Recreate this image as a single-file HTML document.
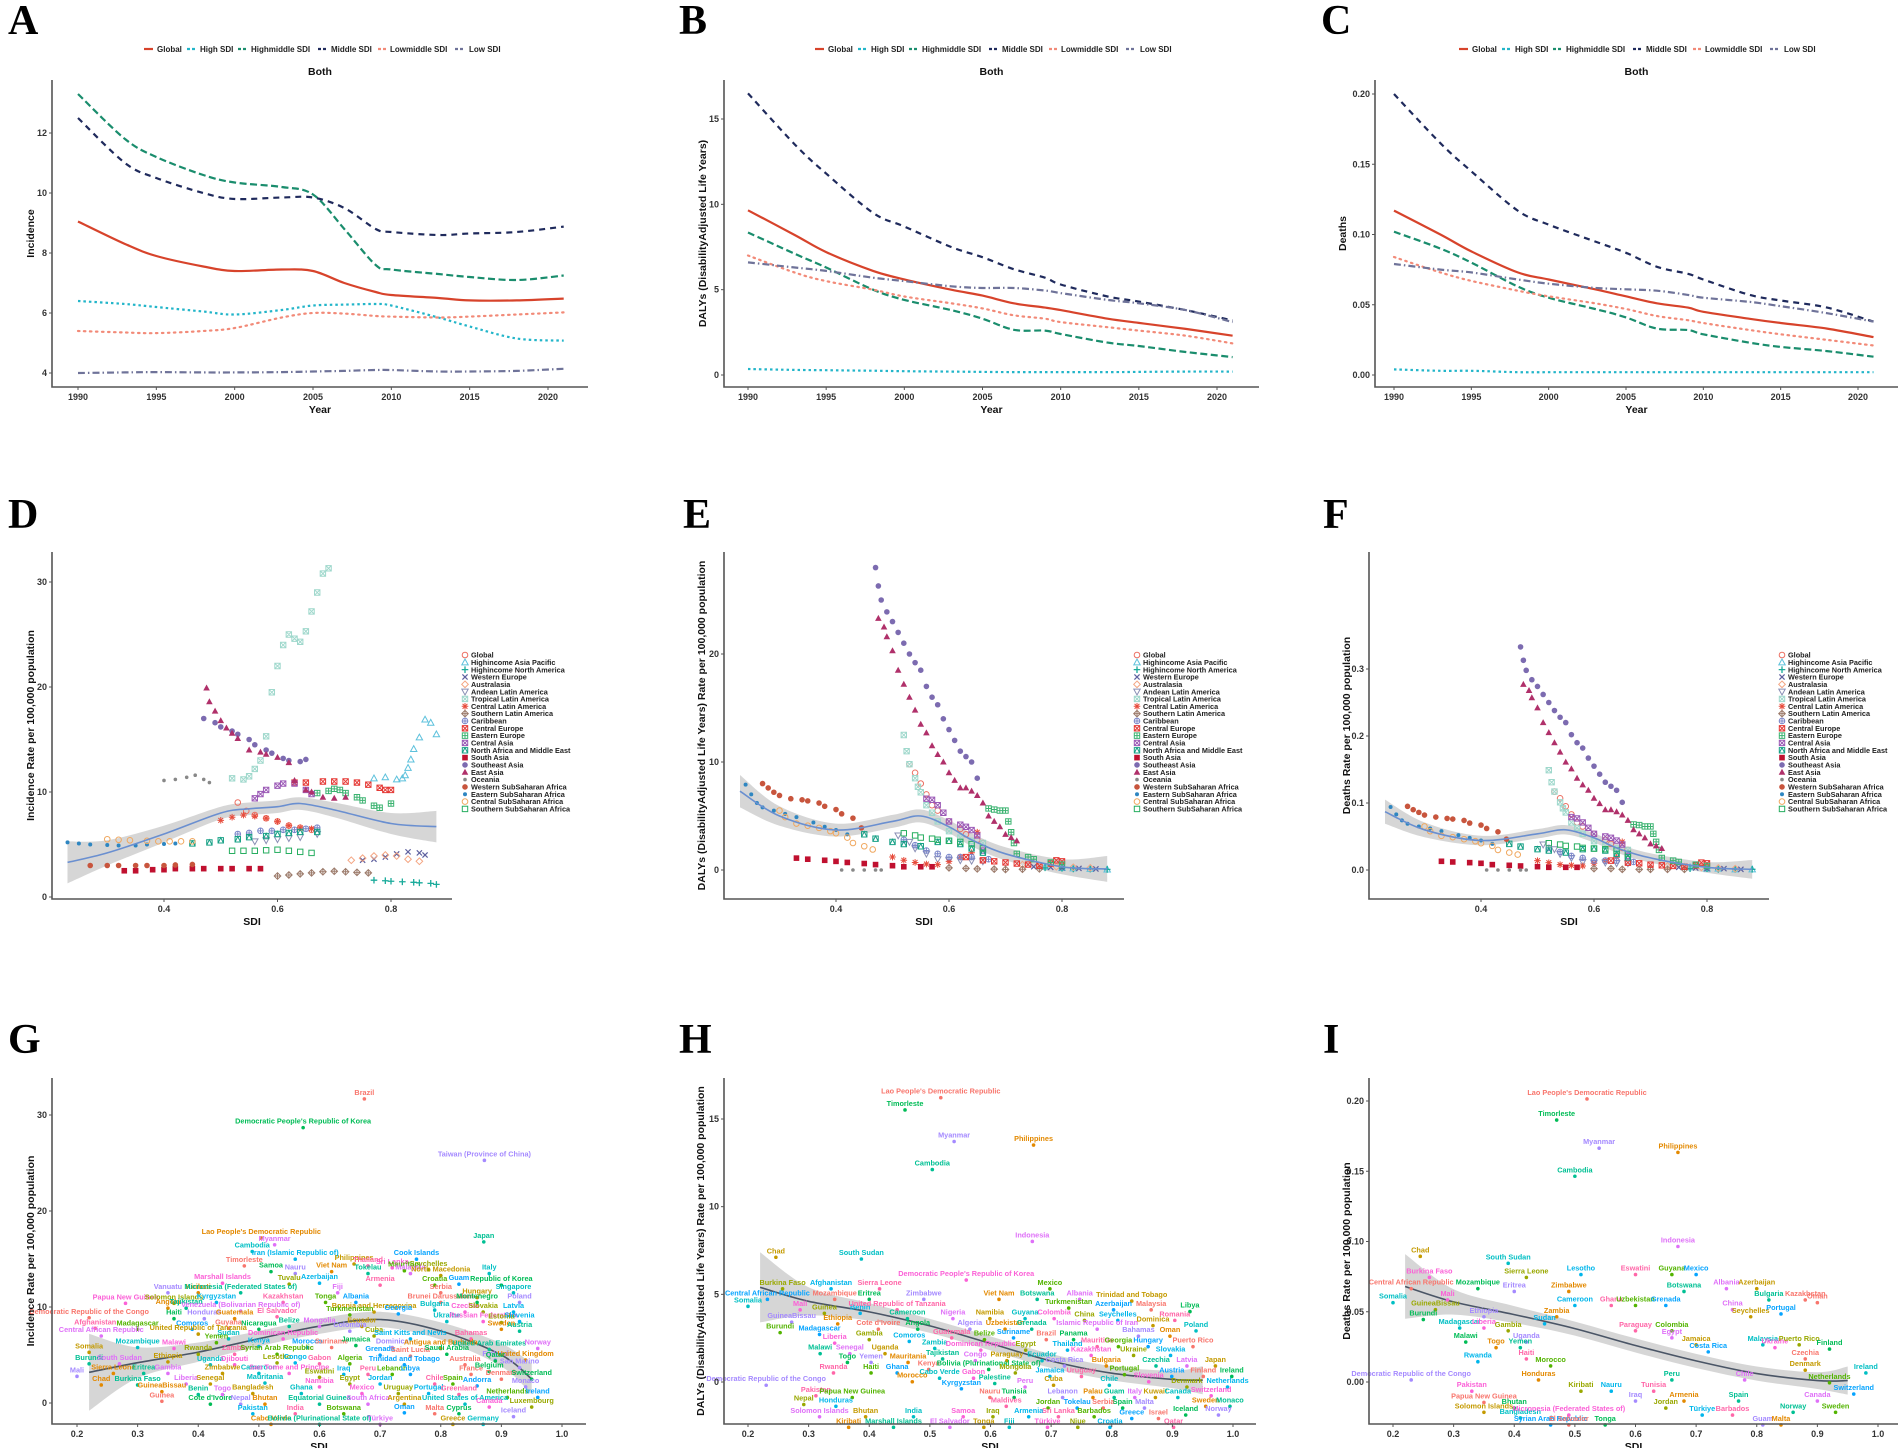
<!DOCTYPE html>
<html><head><meta charset="utf-8"><title>Disease burden figure</title>
<style>
html,body{margin:0;padding:0;background:#fff;}
svg{display:block;font-family:"Liberation Sans",Arial,sans-serif;}
.tk{font-size:9px;font-weight:bold;fill:#333;}
.at{font-size:10.5px;font-weight:bold;fill:#111;}
.lg{font-size:8px;font-weight:bold;fill:#222;}
.rl{font-size:7.3px;font-weight:bold;fill:#222;}
.cl{font-size:7.3px;font-weight:bold;}
.pl{font-family:"Liberation Serif",serif;font-size:42px;font-weight:bold;fill:#000;}
</style></head>
<body>
<svg id="fig" width="1902" height="1448" viewBox="0 0 1902 1448"></svg>
<script>
// ---------- Line chart data (A, B, C) ----------
const years=[1990,1993,1995,1998,2000,2003,2005,2007,2009,2010,2013,2015,2018,2021];
const yearTicks=[1990,1995,2000,2005,2010,2015,2020];
const seriesNames=['Global','High SDI','Highmiddle SDI','Middle SDI','Lowmiddle SDI','Low SDI'];
const incGlobal=[9.05,8.3,7.9,7.55,7.4,7.45,7.4,7.0,6.7,6.6,6.5,6.42,6.42,6.48];
const incHigh=[6.4,6.3,6.2,6.05,5.95,6.1,6.25,6.28,6.3,6.25,5.85,5.55,5.15,5.08];
const incHighMid=[13.3,11.8,11.2,10.6,10.35,10.2,9.95,8.8,7.6,7.45,7.3,7.2,7.1,7.25];
const incMid=[12.5,11.0,10.5,10.0,9.8,9.85,9.85,9.5,8.8,8.7,8.6,8.65,8.7,8.88];
const incLowMid=[5.4,5.35,5.33,5.4,5.5,5.85,6.0,5.98,5.9,5.88,5.85,5.88,5.95,6.02];
const incLow=[4.0,4.02,4.03,4.02,4.02,4.03,4.05,4.07,4.1,4.1,4.05,4.05,4.07,4.14];
const dalyGlobal=[9.65,8.2,7.2,6.1,5.6,5.0,4.65,4.2,3.95,3.8,3.3,3.05,2.7,2.3];
const dalyHigh=[0.35,0.3,0.28,0.25,0.22,0.2,0.18,0.17,0.17,0.17,0.17,0.18,0.2,0.2];
const dalyHighMid=[8.35,7.1,6.3,5.0,4.4,3.8,3.3,2.65,2.6,2.4,1.9,1.7,1.35,1.05];
const dalyMid=[16.5,13.5,11.8,9.5,8.7,7.5,6.9,6.2,5.7,5.3,4.6,4.3,3.8,3.2];
const dalyLowMid=[7.0,6.0,5.5,5.0,4.6,4.2,3.9,3.5,3.3,3.1,2.8,2.6,2.3,1.85];
const dalyLow=[6.6,6.3,6.1,5.7,5.5,5.2,5.1,5.1,4.95,4.8,4.4,4.2,3.8,3.1];
const deathGlobal=[0.117,0.1,0.088,0.073,0.068,0.061,0.056,0.051,0.048,0.045,0.04,0.037,0.033,0.027];
const deathHigh=[0.004,0.003,0.003,0.002,0.002,0.002,0.002,0.002,0.002,0.002,0.002,0.002,0.002,0.002];
const deathHighMid=[0.102,0.09,0.08,0.063,0.055,0.047,0.041,0.033,0.032,0.029,0.023,0.02,0.017,0.013];
const deathMid=[0.2,0.165,0.145,0.117,0.107,0.095,0.087,0.077,0.072,0.068,0.057,0.053,0.048,0.038];
const deathLowMid=[0.084,0.073,0.067,0.06,0.056,0.051,0.047,0.042,0.039,0.037,0.032,0.029,0.025,0.021];
const deathLow=[0.079,0.075,0.073,0.068,0.065,0.062,0.061,0.060,0.057,0.055,0.052,0.049,0.044,0.038];
const incTicks=[4,6,8,10,12];
const dalyTicks=[0,5,10,15];
const deathTicks=[0,0.05,0.1,0.15,0.2];
const deathTickLabels=['0.00','0.05','0.10','0.15','0.20'];

// ---------- Region scatter data (D, E, F) ----------
const regionNames=['Global','Highincome Asia Pacific','Highincome North America','Western Europe','Australasia','Andean Latin America','Tropical Latin America','Central Latin America','Southern Latin America','Caribbean','Central Europe','Eastern Europe','Central Asia','North Africa and Middle East','South Asia','Southeast Asia','East Asia','Oceania','Western SubSaharan Africa','Eastern SubSaharan Africa','Central SubSaharan Africa','Southern SubSaharan Africa'];
const dSdi=[[0.53,0.545,0.56,0.58,0.6,0.62,0.64,0.66],[0.77,0.79,0.81,0.82,0.825,0.83,0.835,0.84,0.85,0.86,0.87,0.88],[0.77,0.79,0.8,0.82,0.84,0.85,0.87,0.88],[0.75,0.77,0.79,0.81,0.83,0.85,0.86],[0.73,0.75,0.77,0.79,0.81,0.83,0.85],[0.56,0.58,0.6,0.62,0.64,0.67],[0.52,0.54,0.55,0.56,0.57,0.58,0.59,0.6,0.61,0.62,0.63,0.64,0.65,0.66,0.67,0.68,0.69],[0.5,0.52,0.54,0.56,0.58,0.6,0.62,0.64,0.66],[0.6,0.62,0.64,0.66,0.68,0.7,0.72,0.74,0.76],[0.53,0.55,0.57,0.59,0.61,0.63,0.65,0.67],[0.63,0.65,0.68,0.7,0.72,0.74,0.76,0.78,0.79,0.8],[0.67,0.69,0.7,0.71,0.72,0.74,0.75,0.77,0.78,0.8],[0.56,0.57,0.58,0.6,0.61,0.63,0.65,0.66],[0.45,0.48,0.5,0.53,0.55,0.58,0.6,0.62,0.64,0.67],[0.33,0.35,0.38,0.4,0.42,0.45,0.47,0.5,0.52,0.55,0.57],[0.47,0.49,0.5,0.52,0.53,0.55,0.56,0.58,0.59,0.61,0.62,0.64,0.65],[0.475,0.48,0.49,0.5,0.51,0.52,0.53,0.55,0.57,0.58,0.6,0.62,0.63,0.65,0.66,0.68,0.7,0.72],[0.4,0.42,0.44,0.455,0.47,0.48],[0.27,0.3,0.32,0.35,0.37,0.4,0.42,0.45],[0.23,0.25,0.27,0.3,0.32,0.35,0.37,0.4,0.42],[0.3,0.32,0.34,0.37,0.39,0.41,0.43,0.45],[0.52,0.54,0.56,0.58,0.6,0.62,0.64,0.66]];
const dInc=[[9.0,8.2,7.8,7.5,7.2,6.8,6.6,6.4],[11.3,11.4,11.2,11.3,11.6,12.3,13.1,14.1,15.2,16.9,16.6,15.5],[1.6,1.55,1.5,1.45,1.4,1.35,1.3,1.2],[3.5,3.6,3.8,4.1,4.3,4.2,4.0],[3.5,3.7,3.9,4.0,3.9,3.6,3.4],[5.3,5.4,5.5,5.6,5.7,6.0],[11.3,11.2,11.5,12.2,13.0,15.3,19.5,22,24,25,24.6,24.3,25.3,27.2,29,30.8,31.3],[7.3,7.6,7.8,7.7,7.5,7.2,6.8,6.6,6.5],[2.0,2.1,2.2,2.3,2.4,2.45,2.4,2.35,2.3],[6.0,6.1,6.3,6.3,6.4,6.4,6.5,6.6],[10.9,10.9,11.0,11.0,11.0,10.9,10.7,10.4,10.2,10.2],[9.9,10.1,10.3,10.2,9.9,9.5,9.2,8.7,8.5,8.9],[9.4,9.8,10.2,10.6,10.8,10.8,10.2,9.8],[5.1,5.2,5.4,5.5,5.7,5.8,6.0,6.1,6.2,6.2],[2.5,2.5,2.6,2.6,2.7,2.7,2.7,2.7,2.7,2.7,2.7],[17.0,16.6,16.2,15.8,15.5,15.0,14.5,14.0,13.7,13.2,13.0,12.9,13.1],[19.9,18.6,17.7,16.8,16.1,15.6,15.1,14.0,13.8,13.6,13.3,12.8,11.1,10.2,10.0,9.5,9.4,9.5],[11.1,11.2,11.4,11.6,11.2,10.9],[3.0,3.0,3.0,3.0,3.0,3.0,3.05,3.1],[5.2,5.1,5.0,4.95,4.9,4.9,5.0,5.05,5.1],[5.5,5.45,5.4,5.35,5.3,5.3,5.3,5.3],[4.4,4.4,4.4,4.45,4.5,4.4,4.3,4.2]];
const eSdi=[[0.53,0.54,0.55,0.56,0.57,0.58,0.6,0.62,0.63,0.65,0.66],[0.77,0.8,0.82,0.85,0.88],[0.77,0.8,0.82,0.85,0.88],[0.75,0.78,0.8,0.83,0.86],[0.73,0.76,0.79,0.82,0.85],[0.51,0.53,0.54,0.56,0.58,0.6,0.62,0.64,0.66],[0.52,0.525,0.53,0.54,0.545,0.55,0.56,0.57,0.58,0.6,0.62,0.64,0.66],[0.5,0.52,0.54,0.56,0.58,0.6,0.62,0.64,0.65],[0.6,0.63,0.65,0.68,0.7,0.73,0.76],[0.52,0.54,0.56,0.58,0.6,0.62,0.64,0.67],[0.63,0.66,0.68,0.7,0.72,0.74,0.76,0.78,0.79,0.8],[0.67,0.68,0.69,0.7,0.705,0.71,0.715,0.72,0.74,0.75,0.78,0.8],[0.56,0.57,0.58,0.59,0.6,0.62,0.63,0.64,0.65,0.66],[0.45,0.47,0.5,0.52,0.55,0.58,0.6,0.62,0.64,0.66],[0.33,0.35,0.38,0.4,0.42,0.45,0.47,0.5,0.52,0.55,0.57],[0.47,0.475,0.48,0.49,0.5,0.51,0.52,0.53,0.54,0.55,0.56,0.57,0.58,0.59,0.6,0.61,0.62,0.63,0.64,0.65],[0.475,0.485,0.49,0.5,0.51,0.52,0.53,0.54,0.55,0.56,0.57,0.58,0.59,0.6,0.61,0.62,0.63,0.64,0.65,0.66,0.67,0.68,0.69,0.7,0.71,0.72],[0.41,0.43,0.45,0.47,0.48],[0.27,0.28,0.29,0.3,0.32,0.34,0.35,0.37,0.38,0.4,0.41,0.43,0.445],[0.24,0.25,0.26,0.27,0.29,0.31,0.33,0.36,0.38,0.4,0.42],[0.3,0.31,0.33,0.35,0.37,0.39,0.4,0.42,0.43,0.45,0.465],[0.52,0.54,0.55,0.57,0.58,0.6,0.62,0.64,0.66]];
const eDaly=[[9.8,9.0,8.0,7.0,6.0,5.5,4.5,3.8,3.3,2.8,2.5],[0.3,0.2,0.15,0.1,0.05],[0.2,0.15,0.1,0.08,0.05],[0.3,0.25,0.2,0.15,0.1],[0.5,0.4,0.3,0.25,0.2],[3.2,2.6,2.0,1.5,1.0,0.9,0.9,0.85,0.8],[12.5,11.0,9.8,8.5,7.7,7.2,6.0,5.3,4.5,3.6,3.0,2.7,2.5],[1.2,0.9,0.7,0.55,0.5,0.8,1.2,1.6,3.5],[0.2,0.15,0.1,0.08,0.05,0.07,0.1],[2.8,2.3,1.8,1.5,1.2,1.2,1.2,1.0],[1.2,0.9,0.8,0.7,0.6,0.5,0.4,0.6,0.9,0.8],[5.7,5.6,5.5,5.5,4.5,3.5,2.5,1.5,1.2,1.0,0.7,0.5],[6.6,6.5,6.0,5.3,4.5,4.2,4.0,3.7,3.2,1.8],[3.3,2.9,2.6,2.4,2.2,2.6,2.7,2.4,2.0,1.6],[1.1,1.0,0.9,0.8,0.7,0.6,0.5,0.4,0.3,0.3,0.3],[28,26.3,25.0,23.9,23.0,22.0,21.0,20.0,19.2,18.5,17.0,16.0,15.3,14.0,13.0,12.0,11.0,10.5,10.0,8.5],[23.3,22.5,21.6,20.3,18.5,17.2,16.0,14.8,13.5,12.7,11.5,10.7,10.0,9.0,8.3,7.6,7.6,7.3,6.9,6.2,5.0,4.5,4.0,3.3,3.0,2.7],[0,0,0,0,0],[8.0,7.6,7.2,6.9,6.6,6.5,6.4,6.2,5.9,5.6,5.2,4.8,3.9],[7.9,7.0,6.2,5.8,5.5,5.2,4.9,4.4,4.0,3.7,3.3],[5.5,4.9,4.3,4.1,3.9,3.6,3.4,3.0,2.5,2.2,1.9],[3.4,3.2,3.0,2.9,2.8,2.7,2.6,2.4,2.0]];
const fDeath=[[0.117,0.107,0.095,0.083,0.071,0.065,0.054,0.045,0.039,0.033,0.03],[0.004,0.002,0.002,0.001,0.001],[0.002,0.002,0.001,0.001,0.001],[0.004,0.003,0.002,0.002,0.001],[0.006,0.005,0.004,0.003,0.002],[0.038,0.031,0.024,0.018,0.012,0.011,0.011,0.01,0.01],[0.149,0.131,0.117,0.101,0.092,0.086,0.071,0.063,0.054,0.043,0.036,0.032,0.03],[0.014,0.011,0.008,0.007,0.006,0.01,0.014,0.019,0.042],[0.002,0.002,0.001,0.001,0.001,0.001,0.001],[0.033,0.027,0.021,0.018,0.014,0.014,0.014,0.012],[0.014,0.011,0.01,0.008,0.007,0.006,0.005,0.007,0.011,0.01],[0.068,0.067,0.065,0.065,0.054,0.042,0.03,0.018,0.014,0.012,0.008,0.006],[0.079,0.077,0.071,0.063,0.054,0.05,0.048,0.044,0.038,0.021],[0.039,0.035,0.031,0.029,0.026,0.031,0.032,0.029,0.024,0.019],[0.013,0.012,0.011,0.01,0.008,0.007,0.006,0.005,0.004,0.004,0.004],[0.333,0.313,0.298,0.284,0.274,0.262,0.25,0.238,0.228,0.22,0.202,0.19,0.182,0.167,0.155,0.143,0.131,0.125,0.119,0.101],[0.277,0.268,0.257,0.242,0.22,0.205,0.19,0.176,0.161,0.151,0.137,0.127,0.119,0.107,0.099,0.09,0.09,0.087,0.082,0.074,0.06,0.054,0.048,0.039,0.036,0.032],[0,0,0,0,0],[0.095,0.09,0.086,0.082,0.079,0.077,0.076,0.074,0.07,0.067,0.062,0.057,0.046],[0.094,0.083,0.074,0.069,0.065,0.062,0.058,0.052,0.048,0.044,0.039],[0.065,0.058,0.051,0.049,0.046,0.043,0.04,0.036,0.03,0.026,0.023],[0.04,0.038,0.036,0.035,0.033,0.032,0.031,0.029,0.024]];
const smoothSdi=[0.23,0.3,0.4,0.5,0.55,0.6,0.64,0.7,0.8,0.88];
const dSmooth=[3.3,4.2,6.0,8.0,8.4,8.6,8.9,8.3,7.0,6.7];
const dBand=[2.0,1.2,0.8,0.6,0.6,0.6,0.6,0.7,1.0,1.5];
const eSmooth=[7.3,5.0,3.7,4.5,5.0,4.0,2.8,1.5,0.3,0.1];
const eBand=[1.5,0.9,0.6,0.6,0.6,0.6,0.6,0.6,0.7,1.2];
const fSmooth=[0.087,0.06,0.044,0.054,0.06,0.048,0.033,0.018,0.004,0.001];
const fBand=[0.018,0.011,0.007,0.007,0.007,0.007,0.007,0.007,0.008,0.014];
const dTicks=[0,10,20,30];
const eTicks=[0,10,20];
const fTicks=[0,0.1,0.2,0.3];
const fTickLabels=['0.0','0.1','0.2','0.3'];
const sdiTicksMid=[0.4,0.6,0.8];

// ---------- Country scatter data (G, H, I) ----------
const gNames=['Brazil',"Democratic People's Republic of Korea",'Taiwan (Province of China)',"Lao People's Democratic Republic",'Japan','Myanmar','Philippines','Cambodia','Sri Lanka','Seychelles','Iran (Islamic Republic of)','Thailand','Mauritius','Cook Islands','Timorleste','Samoa','Nauru','Viet Nam','Tokelau','Malaysia','North Macedonia','Italy','Marshall Islands','Tuvalu','Azerbaijan','Armenia','Croatia','Guam','Serbia','Republic of Korea','Vanuatu','Kiribati','Micronesia (Federated States of)','Fiji','Hungary','Singapore','Papua New Guinea','Solomon Islands','Kyrgyzstan','Kazakhstan','Tonga','Albania','Brunei Darussalam','Montenegro','Poland','Angola','Tajikistan','Venezuela (Bolivarian Republic of)','Bosnia and Herzegovina','Bulgaria','Czechia','Slovakia','Latvia','El Salvador','Turkmenistan','Georgia','Democratic Republic of the Congo','Haiti','Honduras','Guatemala','Belize','Mongolia','Ecuador','Ukraine','Russian Federation','Estonia','Slovenia','Afghanistan','Madagascar','Comoros','Guyana','Nicaragua','Colombia','Sweden','Austria','Central African Republic','United Republic of Tanzania','Sudan','Dominican Republic','Cuba','Saint Kitts and Nevis','Bahamas','Yemen','Morocco','Suriname','Jamaica','Dominica','Antigua and Barbuda','United Arab Emirates','Norway','Somalia','Mozambique','Malawi','Rwanda','Kenya','Zambia','Syrian Arab Republic','Grenada','Saint Lucia','Saudi Arabia','Finland','United Kingdom','Burundi','South Sudan','Ethiopia','Uganda','Djibouti','Lesotho','Congo','Gabon','Algeria','Trinidad and Tobago','Australia','Qatar','Mali','Sierra Leone','Eritrea','Gambia','Zimbabwe','Cameroon','Sao Tome and Principe','Eswatini','Iraq','Peru','Lebanon','Libya','France','Belgium','San Marino','Chad','Burkina Faso','Liberia','Senegal','Mauritania','Namibia','Egypt','Jordan','Chile','Spain','Andorra','Denmark','Switzerland','Monaco','GuineaBissau','Benin','Togo','Bangladesh','Ghana','Mexico','Uruguay','Portugal','Greenland','Netherlands','Ireland','Guinea',"Cote d'Ivoire",'Nepal','Bhutan','Equatorial Guinea','South Africa','Argentina','United States of America','Canada','Luxembourg','Pakistan','India','Botswana','Oman','Malta','Cyprus','Iceland','Cabo Verde','Bolivia (Plurinational State of)','Türkiye','Greece','Germany'];
const gSdi=[0.674,0.573,0.872,0.504,0.871,0.526,0.657,0.489,0.72,0.78,0.56,0.68,0.74,0.76,0.476,0.52,0.56,0.62,0.68,0.75,0.8,0.88,0.44,0.55,0.6,0.7,0.79,0.83,0.8,0.9,0.35,0.4,0.47,0.63,0.86,0.92,0.28,0.36,0.43,0.54,0.61,0.66,0.8,0.86,0.93,0.35,0.38,0.47,0.69,0.79,0.84,0.87,0.92,0.53,0.65,0.73,0.22,0.36,0.41,0.46,0.55,0.6,0.67,0.81,0.87,0.9,0.93,0.23,0.3,0.39,0.45,0.5,0.65,0.9,0.93,0.24,0.4,0.45,0.54,0.69,0.75,0.85,0.43,0.58,0.62,0.66,0.72,0.8,0.88,0.96,0.22,0.3,0.36,0.4,0.5,0.46,0.53,0.7,0.75,0.81,0.89,0.94,0.22,0.27,0.35,0.42,0.46,0.53,0.56,0.6,0.65,0.74,0.84,0.89,0.2,0.26,0.31,0.35,0.44,0.5,0.55,0.6,0.64,0.68,0.72,0.75,0.85,0.88,0.93,0.24,0.3,0.38,0.42,0.51,0.6,0.65,0.7,0.79,0.82,0.86,0.9,0.95,0.94,0.34,0.4,0.44,0.49,0.57,0.67,0.73,0.78,0.83,0.91,0.96,0.34,0.42,0.47,0.51,0.6,0.68,0.74,0.84,0.88,0.95,0.49,0.56,0.64,0.74,0.79,0.83,0.92,0.52,0.6,0.7,0.82,0.87];
const gVal=[32.2,29.2,25.8,17.7,17.3,17.0,15.0,16.3,14.6,14.4,15.5,14.8,14.3,15.5,14.8,14.2,14.0,14.2,14.0,14.0,13.8,14.0,13.0,12.9,13.0,12.8,12.8,12.9,12.0,12.8,12.0,12.0,12.0,12.0,11.5,12.0,10.9,10.9,11.0,11.0,11.0,11.0,11.0,11.0,11.0,10.4,10.4,10.1,10.0,10.2,10.0,10.0,10.0,9.5,9.7,9.8,9.4,9.3,9.3,9.3,8.5,8.5,8.5,9.0,9.0,8.9,9.0,8.3,8.2,8.2,8.3,8.2,8.0,8.2,8.0,7.5,7.7,7.2,7.2,7.5,7.2,7.2,6.8,6.3,6.3,6.5,6.3,6.2,6.1,6.2,5.8,6.3,6.2,5.6,6.4,5.6,5.6,5.5,5.4,5.6,5.0,5.0,4.6,4.6,4.8,4.5,4.5,4.7,4.7,4.6,4.6,4.5,4.5,4.9,3.3,3.6,3.6,3.6,3.6,3.6,3.6,3.2,3.5,3.5,3.5,3.5,3.5,3.8,4.2,2.4,2.4,2.5,2.5,2.6,2.2,2.5,2.5,2.5,2.5,2.3,3.0,3.0,2.2,1.7,1.4,1.4,1.5,1.5,1.5,1.5,1.5,1.4,1.1,1.1,0.7,0.4,0.4,0.4,0.4,0.4,0.4,0.4,0.1,0.1,-0.6,-0.6,-0.6,-0.5,-0.6,-0.6,-0.9,-1.7,-1.7,-1.7,-1.7,-1.7];
const hNames=["Lao People's Democratic Republic",'Timorleste','Myanmar','Philippines','Cambodia','Indonesia','Chad','South Sudan',"Democratic People's Republic of Korea",'Burkina Faso','Afghanistan','Sierra Leone','Mexico','Central African Republic','Mozambique','Eritrea','Zimbabwe','Viet Nam','Botswana','Albania','Trinidad and Tobago','Somalia','Mali','Guinea','Benin','United Republic of Tanzania','Turkmenistan','Azerbaijan','Malaysia','Libya','GuineaBissau','Ethiopia','Cameroon','Nigeria','Namibia','Guyana','Colombia','China','Seychelles','Romania','Burundi','Madagascar',"Cote d'Ivoire",'Angola','Algeria','Uzbekistan','Grenada','Islamic Republic of Iran','Dominica','Poland','Liberia','Gambia','Comoros','Guatemala','Belize','Suriname','Brazil','Panama','Bahamas','Oman','Malawi','Senegal','Uganda','Zambia','Dominican Republic','Egypt','Thailand','Mauritius','Georgia','Hungary','Puerto Rico','Togo','Yemen','Mauritania','Tajikistan','Congo','Paraguay','Ecuador','Kazakhstan','Ukraine','Slovakia','Rwanda','Haiti','Ghana','Kenya','Bolivia (Plurinational State of)','Costa Rica','Bulgaria','Czechia','Latvia','Japan','Cabo Verde','Gabon','Mongolia','Jamaica','Uruguay','Portugal','Austria','Finland','Ireland','Democratic Republic of the Congo','Morocco','Palestine','Peru','Cuba','Chile','Slovenia','Denmark','Netherlands','Pakistan','Papua New Guinea','Kyrgyzstan','Nauru','Tunisia','Lebanon','Palau','Guam','Italy','Kuwait','Canada','Switzerland','Nepal','Honduras','Maldives','Jordan','Tokelau','Serbia','Spain','Malta','Sweden','Monaco','Solomon Islands','Bhutan','India','Samoa','Iraq','Armenia','Sri Lanka','Barbados','Greece','Israel','Iceland','Norway','Kiribati','Marshall Islands','El Salvador','Tonga','Fiji','Türkiye','Niue','Croatia','Qatar'];
const hSdi=[0.518,0.459,0.54,0.671,0.504,0.669,0.246,0.387,0.56,0.257,0.337,0.417,0.698,0.232,0.343,0.4,0.49,0.614,0.677,0.747,0.833,0.2,0.286,0.326,0.385,0.446,0.729,0.803,0.865,0.929,0.272,0.348,0.463,0.538,0.599,0.657,0.705,0.755,0.81,0.904,0.253,0.318,0.415,0.48,0.566,0.624,0.668,0.776,0.868,0.939,0.343,0.4,0.466,0.536,0.59,0.638,0.692,0.737,0.844,0.896,0.319,0.368,0.426,0.508,0.584,0.658,0.727,0.776,0.811,0.86,0.934,0.364,0.403,0.464,0.521,0.575,0.627,0.685,0.766,0.836,0.897,0.341,0.403,0.446,0.498,0.597,0.722,0.791,0.873,0.924,0.971,0.516,0.572,0.641,0.698,0.75,0.821,0.899,0.951,0.998,0.23,0.471,0.607,0.657,0.704,0.796,0.861,0.924,0.991,0.312,0.372,0.552,0.599,0.639,0.719,0.769,0.804,0.838,0.872,0.909,0.964,0.292,0.345,0.626,0.695,0.743,0.786,0.818,0.854,0.955,0.995,0.318,0.394,0.473,0.555,0.604,0.663,0.712,0.771,0.833,0.877,0.922,0.976,0.366,0.44,0.533,0.589,0.631,0.694,0.744,0.797,0.902];
const hVal=[16.5,15.8,14.0,13.8,12.4,8.3,7.4,7.3,6.1,5.6,5.6,5.6,5.6,5.0,5.0,5.0,5.0,5.0,5.0,5.0,4.9,4.6,4.4,4.2,4.2,4.4,4.5,4.4,4.4,4.3,3.7,3.6,3.9,3.9,3.9,3.9,3.9,3.8,3.8,3.8,3.1,3.0,3.3,3.3,3.3,3.3,3.3,3.3,3.5,3.2,2.5,2.7,2.6,2.8,2.7,2.8,2.7,2.7,2.9,2.9,1.9,1.9,1.9,2.2,2.1,2.1,2.1,2.3,2.3,2.3,2.3,1.4,1.4,1.4,1.6,1.5,1.5,1.5,1.8,1.8,1.8,0.8,0.8,0.8,1.0,1.0,1.2,1.2,1.2,1.2,1.2,0.5,0.5,0.8,0.6,0.6,0.7,0.6,0.6,0.6,0.1,0.3,0.2,0.0,0.1,0.1,0.3,0.0,0.0,-0.5,-0.6,-0.1,-0.6,-0.6,-0.6,-0.6,-0.6,-0.6,-0.6,-0.6,-0.5,-1.0,-1.1,-1.1,-1.2,-1.2,-1.2,-1.2,-1.2,-1.1,-1.1,-1.7,-1.7,-1.7,-1.7,-1.7,-1.7,-1.7,-1.7,-1.8,-1.8,-1.6,-1.6,-2.3,-2.3,-2.3,-2.3,-2.3,-2.3,-2.3,-2.3,-2.3];
const iNames=["Lao People's Democratic Republic",'Timorleste','Myanmar','Philippines','Cambodia','Indonesia','Chad','South Sudan','Burkina Faso','Sierra Leone','Lesotho','Eswatini','Guyana','Mexico','Central African Republic','Mozambique','Eritrea','Zimbabwe','Botswana','Albania','Azerbaijan','Somalia','Mali','GuineaBissau','Cameroon','Ghana','Uzbekistan','Grenada','Kazakhstan','Burundi','Ethiopia','Zambia','Bulgaria','China','Seychelles','Madagascar','Liberia','Gambia','Sudan','Paraguay','Colombia','Portugal','Oman','Malawi','Uganda','Togo','Yemen','Egypt','Jamaica','Malaysia','Ukraine','Puerto Rico','Rwanda','Haiti','Morocco','Costa Rica','Czechia','Finland','Democratic Republic of the Congo','Honduras','Peru','Chile','Denmark','Ireland','Pakistan','Kiribati','Nauru','Tunisia','Netherlands','Switzerland','Papua New Guinea','Bhutan','Iraq','Armenia','Spain','Canada','Solomon Islands','Bangladesh','Micronesia (Federated States of)','Jordan','Türkiye','Barbados','Sweden','Syrian Arab Republic','El Salvador','Tonga','Guam','Malta','Norway'];
const iSdi=[0.52,0.47,0.54,0.67,0.5,0.67,0.245,0.39,0.26,0.42,0.51,0.6,0.66,0.7,0.23,0.34,0.4,0.49,0.68,0.75,0.8,0.2,0.29,0.27,0.5,0.56,0.6,0.65,0.88,0.25,0.35,0.47,0.82,0.76,0.79,0.31,0.35,0.39,0.45,0.6,0.66,0.84,0.9,0.32,0.42,0.37,0.41,0.66,0.7,0.81,0.83,0.87,0.34,0.42,0.46,0.72,0.88,0.92,0.23,0.44,0.66,0.78,0.88,0.98,0.33,0.51,0.56,0.63,0.92,0.96,0.35,0.4,0.6,0.68,0.77,0.9,0.35,0.41,0.49,0.65,0.71,0.76,0.93,0.46,0.49,0.55,0.81,0.84,0.86];
const iVal=[0.205,0.19,0.17,0.167,0.15,0.1,0.093,0.088,0.078,0.078,0.08,0.08,0.08,0.08,0.07,0.07,0.068,0.068,0.068,0.07,0.07,0.06,0.062,0.055,0.058,0.058,0.058,0.058,0.062,0.048,0.05,0.05,0.062,0.055,0.05,0.042,0.042,0.04,0.045,0.04,0.04,0.052,0.06,0.032,0.032,0.028,0.028,0.035,0.03,0.03,0.028,0.03,0.018,0.02,0.015,0.025,0.02,0.027,0.005,0.005,0.005,0.005,0.012,0.01,-0.003,-0.003,-0.003,-0.003,0.003,-0.005,-0.011,-0.015,-0.01,-0.01,-0.01,-0.01,-0.018,-0.022,-0.02,-0.015,-0.02,-0.02,-0.018,-0.027,-0.027,-0.027,-0.027,-0.027,-0.018];
const cSmoothSdi=[0.22,0.3,0.4,0.5,0.6,0.7,0.8,0.9,0.95];
const gSmooth=[3.2,4.2,5.3,6.7,8.0,8.7,7.5,5.0,2.5];
const gBand=[4.0,1.6,1.0,0.8,0.8,0.8,0.9,1.2,1.6];
const hSmooth=[5.4,4.6,4.0,3.2,2.2,1.2,0.5,0.15,0.1];
const hBand=[2.0,0.8,0.5,0.4,0.4,0.4,0.4,0.5,0.8];
const iSmooth=[0.068,0.057,0.048,0.038,0.026,0.015,0.006,0.001,0.001];
const iBand=[0.023,0.009,0.006,0.005,0.005,0.005,0.005,0.006,0.01];
const gTicks=[0,10,20,30];
const hTicks=[0,5,10,15];
const iTicks=[0,0.05,0.1,0.15,0.2];
const iTickLabels=['0.00','0.05','0.10','0.15','0.20'];
const sdiTicksFull=[0.2,0.3,0.4,0.5,0.6,0.7,0.8,0.9,1.0];
const sdiTickLabelsFull=['0.2','0.3','0.4','0.5','0.6','0.7','0.8','0.9','1.0'];

// ---------- styles (not data) ----------
const lineColors=['#d7432b','#22b5c9','#1a8d6d','#1f2a5c','#f28a78','#6f7399'];
const lineDash=['','2.5,3','7,3.5','6,5','1.5,4.5','7,3,1.5,3'];
const regionColors=['#ec7063','#5dc1dc','#1aab9b','#5d5f9e','#f4a582','#8a8fb5','#9fd8cc','#e74c3c','#9c7b6b','#7b86c9','#e53935','#3cb371','#9b59b6','#16a085','#c0102f','#7c6bb0','#b0306a','#888888','#c8553d','#2e86c1','#f0a860','#27ae60'];
const regionShapes=['oc','ot','plus','x','od','odt','sqx','ast','dplus','cplus','sqx','sqp','sqx','sqt','fsq','fc','ftri','sdot','fc','fdot','oc','osq'];
const hue=['#F8766D','#E38900','#C49A00','#99A800','#53B400','#00BC56','#00C094','#00BFC4','#00B6EB','#06A4FF','#A58AFF','#DF70F8','#FB61D7','#FF66A8'];

const NS='http://www.w3.org/2000/svg';
const svg=document.getElementById('fig');
function mk(tag,parent,attrs){const e=document.createElementNS(NS,tag);for(const k in attrs)e.setAttribute(k,attrs[k]);parent.appendChild(e);return e;}
function txt(parent,x,y,s,cls,anchor,rot){const t=mk('text',parent,{x:x,y:y,class:cls,'text-anchor':anchor||'middle'});if(rot)t.setAttribute('transform','rotate(-90 '+x+' '+y+')');t.textContent=s;return t;}
function slug(s){return s.toLowerCase().replace(/[^a-z0-9]+/g,'-').replace(/^-|-$/g,'');}
function lin(v0,p0,v1,p1){return v=>p0+(v-v0)*(p1-p0)/(v1-v0);}
function smoothD(pts){let d='M'+pts[0][0].toFixed(1)+' '+pts[0][1].toFixed(1);for(let i=0;i<pts.length-1;i++){const p0=pts[i-1]||pts[i],p1=pts[i],p2=pts[i+1],p3=pts[i+2]||p2;const c1=[p1[0]+(p2[0]-p0[0])/6,p1[1]+(p2[1]-p0[1])/6],c2=[p2[0]-(p3[0]-p1[0])/6,p2[1]-(p3[1]-p1[1])/6];d+=' C'+c1[0].toFixed(1)+' '+c1[1].toFixed(1)+' '+c2[0].toFixed(1)+' '+c2[1].toFixed(1)+' '+p2[0].toFixed(1)+' '+p2[1].toFixed(1);}return d;}

function axes(g,c,name){
  const a=mk('path',g,{d:'M'+c.ax+' '+c.top+' V'+c.bottom+' H'+c.right,fill:'none',stroke:'#555','stroke-width':1.6});
  
  
  c.yt.forEach((v,i)=>{const y=c.ys(v);
    const tm=mk('line',g,{x1:c.ax-3,x2:c.ax,y1:y,y2:y,stroke:'#555'});
    
    
    const t=txt(g,c.ax-5,y+3,c.ytl?c.ytl[i]:String(v),'tk','end');
    
    });
  c.xt.forEach((v,i)=>{const x=c.xs(v);
    const tm=mk('line',g,{x1:x,x2:x,y1:c.bottom,y2:c.bottom+3,stroke:'#555'});
    
    
    const t=txt(g,x,c.bottom+13,c.xtl?c.xtl[i]:String(v),'tk');
    
    });
  const xt=txt(g,(c.ax+c.right)/2,c.bottom+26,c.xlab,'at');
  
  
  const yt=txt(g,c.ylx,(c.top+c.bottom)/2,c.ylab,'at','middle',true);
  
  
}
function panelLetter(L,x,y){const t=txt(svg,x,y,L,'pl','start');
  
  }

// ---------- Line charts ----------
function lineChart(name,off,series,yt,ytl,yv0,yp0,yv1,yp1,ylab,ylx,ax,x1990,x2020,right){
  const g=mk('g',svg,{});
  
  
  const c={ax:ax,top:80,bottom:387,right:right,xs:lin(1990,x1990,2020,x2020),ys:lin(yv0,yp0,yv1,yp1),xt:yearTicks,yt:yt,ytl:ytl,xlab:'Year',ylab:ylab,ylx:ylx};
  axes(g,c,name);
  const ti=txt(g,(ax+right)/2,75,'Both','at');
  
  
  const lx=[144,187,238,318,378,455], tx=[157,200,251,331,390,469];
  series.forEach((vals,k)=>{
    const p=mk('path',g,{d:smoothD(years.map((yr,i)=>[c.xs(yr),c.ys(vals[i])])),fill:'none',stroke:lineColors[k],'stroke-width':2.2,'stroke-dasharray':lineDash[k],'stroke-linecap':k==4?'round':'butt'});
    
    
    const ls=mk('line',g,{x1:lx[k]+off,x2:lx[k]+off+9,y1:49,y2:49,stroke:lineColors[k],'stroke-width':2.2,'stroke-dasharray':lineDash[k]?'3,2':''});
    
    
    const lt=txt(g,tx[k]+off,52,seriesNames[k],'lg','start');
    
    
  });
}
lineChart('chart-a-incidence',0,[incGlobal,incHigh,incHighMid,incMid,incLowMid,incLow],incTicks,null,4,373,12,133,'Incidence',34,52,78,548,588);
lineChart('chart-b-dalys',671,[dalyGlobal,dalyHigh,dalyHighMid,dalyMid,dalyLowMid,dalyLow],dalyTicks,null,0,375,15,119,'DALYs (DisabilityAdjusted Life Years)',706,724,748,1217,1259);
lineChart('chart-c-deaths',1315,[deathGlobal,deathHigh,deathHighMid,deathMid,deathLowMid,deathLow],deathTicks,deathTickLabels,0,375,0.2,94,'Deaths',1346,1375,1394,1858,1898);
panelLetter('A',8,34);panelLetter('B',679,34);panelLetter('C',1321,34);

// ---------- markers ----------
function marker(g,shape,x,y,col){
  let e;const s=2.8;
  switch(shape){
    case 'oc': e=mk('circle',g,{cx:x,cy:y,r:s,fill:'none',stroke:col,'stroke-width':1});break;
    case 'fc': e=mk('circle',g,{cx:x,cy:y,r:s,fill:col});break;
    case 'fdot': e=mk('circle',g,{cx:x,cy:y,r:2,fill:col});break;
    case 'sdot': e=mk('circle',g,{cx:x,cy:y,r:1.8,fill:col});break;
    case 'ot': e=mk('path',g,{d:'M'+x+' '+(y-3.3)+' L'+(x+3.2)+' '+(y+2.5)+' L'+(x-3.2)+' '+(y+2.5)+'Z',fill:'none',stroke:col,'stroke-width':1});break;
    case 'ftri': e=mk('path',g,{d:'M'+x+' '+(y-3.5)+' L'+(x+3.3)+' '+(y+2.5)+' L'+(x-3.3)+' '+(y+2.5)+'Z',fill:col});break;
    case 'odt': e=mk('path',g,{d:'M'+x+' '+(y+3.3)+' L'+(x+3.2)+' '+(y-2.5)+' L'+(x-3.2)+' '+(y-2.5)+'Z',fill:'none',stroke:col,'stroke-width':1});break;
    case 'od': e=mk('path',g,{d:'M'+x+' '+(y-3.3)+' L'+(x+3.3)+' '+y+' L'+x+' '+(y+3.3)+' L'+(x-3.3)+' '+y+'Z',fill:'none',stroke:col,'stroke-width':1});break;
    case 'dplus': e=mk('path',g,{d:'M'+x+' '+(y-3.3)+' L'+(x+3.3)+' '+y+' L'+x+' '+(y+3.3)+' L'+(x-3.3)+' '+y+'Z M'+x+' '+(y-3.3)+' V'+(y+3.3)+' M'+(x-3.3)+' '+y+' H'+(x+3.3),fill:'none',stroke:col,'stroke-width':1});break;
    case 'plus': e=mk('path',g,{d:'M'+x+' '+(y-3.3)+' V'+(y+3.3)+' M'+(x-3.3)+' '+y+' H'+(x+3.3),stroke:col,'stroke-width':1.3});break;
    case 'x': e=mk('path',g,{d:'M'+(x-2.6)+' '+(y-2.6)+' L'+(x+2.6)+' '+(y+2.6)+' M'+(x-2.6)+' '+(y+2.6)+' L'+(x+2.6)+' '+(y-2.6),stroke:col,'stroke-width':1.2});break;
    case 'ast': e=mk('path',g,{d:'M'+x+' '+(y-3.3)+' V'+(y+3.3)+' M'+(x-3.3)+' '+y+' H'+(x+3.3)+' M'+(x-2.4)+' '+(y-2.4)+' L'+(x+2.4)+' '+(y+2.4)+' M'+(x-2.4)+' '+(y+2.4)+' L'+(x+2.4)+' '+(y-2.4),stroke:col,'stroke-width':1});break;
    case 'cplus': e=mk('path',g,{d:'M'+(x-2.8)+' '+y+' a2.8 2.8 0 1 0 5.6 0 a2.8 2.8 0 1 0 -5.6 0 M'+x+' '+(y-2.8)+' V'+(y+2.8)+' M'+(x-2.8)+' '+y+' H'+(x+2.8),fill:'none',stroke:col,'stroke-width':1});break;
    case 'sqx': e=mk('path',g,{d:'M'+(x-2.7)+' '+(y-2.7)+' h5.4 v5.4 h-5.4Z M'+(x-2.7)+' '+(y-2.7)+' l5.4 5.4 M'+(x-2.7)+' '+(y+2.7)+' l5.4 -5.4',fill:'none',stroke:col,'stroke-width':1});break;
    case 'sqp': e=mk('path',g,{d:'M'+(x-2.7)+' '+(y-2.7)+' h5.4 v5.4 h-5.4Z M'+x+' '+(y-2.7)+' v5.4 M'+(x-2.7)+' '+y+' h5.4',fill:'none',stroke:col,'stroke-width':1});break;
    case 'sqt': e=mk('path',g,{d:'M'+(x-2.7)+' '+(y-2.7)+' h5.4 v5.4 h-5.4Z M'+(x-2.7)+' '+(y+2.7)+' L'+x+' '+(y-2.7)+' L'+(x+2.7)+' '+(y+2.7),fill:'none',stroke:col,'stroke-width':1});break;
    case 'osq': e=mk('rect',g,{x:x-2.7,y:y-2.7,width:5.4,height:5.4,fill:'none',stroke:col,'stroke-width':1});break;
    default: e=mk('rect',g,{x:x-2.8,y:y-2.8,width:5.6,height:5.6,fill:col});
  }
  return e;
}

// ---------- Region scatter charts ----------
function regionChart(name,sdiArr,valArr,smoothV,band,yt,ytl,yv0,yp0,yv1,yp1,ylab,ylx,ax,x04,x08,right,legX){
  const g=mk('g',svg,{});
  
  
  const c={ax:ax,top:552,bottom:899,right:right,xs:lin(0.4,x04,0.8,x08),ys:lin(yv0,yp0,yv1,yp1),xt:sdiTicksMid,yt:yt,ytl:ytl,xlab:'SDI',ylab:ylab,ylx:ylx};
  const up=smoothSdi.map((s,i)=>[c.xs(s),c.ys(smoothV[i]+band[i])]);
  const lo=smoothSdi.map((s,i)=>[c.xs(s),c.ys(smoothV[i]-band[i])]).reverse();
  const b=mk('path',g,{d:smoothD(up)+' L'+smoothD(lo).slice(1)+'Z',fill:'#c8c8c8','fill-opacity':0.75});
  
  
  regionNames.forEach((rn,r)=>{
    sdiArr[r].forEach((s,i)=>{
      const m=marker(g,regionShapes[r],c.xs(s),c.ys(valArr[r][i]),regionColors[r]);
      
      
    });
    const ly=655+r*7.33;
    const lm=marker(g,regionShapes[r],legX,ly,regionColors[r]);
    
    
    const lt=txt(g,legX+6,ly+2.6,rn,'rl','start');
    
    
  });
  const sl=mk('path',g,{d:smoothD(smoothSdi.map((s,i)=>[c.xs(s),c.ys(smoothV[i])])),fill:'none',stroke:'#6a8fd0','stroke-width':1.6});
  
  
  axes(g,c,name);
}
regionChart('chart-d-incidence-sdi',dSdi,dInc,dSmooth,dBand,dTicks,null,0,897,30,582,'Incidence Rate per 100,000 population',34,52,164,391,452,465);
regionChart('chart-e-dalys-sdi',eSdi,eDaly,eSmooth,eBand,eTicks,null,0,870,20,654,'DALYs (DisabilityAdjusted Life Years) Rate per 100,000 population',705,724,836,1062,1124,1137);
regionChart('chart-f-deaths-sdi',eSdi,fDeath,fSmooth,fBand,fTicks,fTickLabels,0,870,0.3,669,'Deaths Rate per 100,000 population',1350,1369,1481,1707,1769,1782);
panelLetter('D',8,528);panelLetter('E',683,528);panelLetter('F',1323,528);

// ---------- Country scatter charts ----------
function countryChart(name,names,sdi,vals,smoothV,band,yt,ytl,yv0,yp0,yv1,yp1,ylab,ylx,ax,x02,x10,right){
  const g=mk('g',svg,{});
  
  
  const c={ax:ax,top:1078,bottom:1424,right:right,xs:lin(0.2,x02,1.0,x10),ys:lin(yv0,yp0,yv1,yp1),xt:sdiTicksFull,xtl:sdiTickLabelsFull,yt:yt,ytl:ytl,xlab:'SDI',ylab:ylab,ylx:ylx};
  const up=cSmoothSdi.map((s,i)=>[c.xs(s),c.ys(smoothV[i]+band[i])]);
  const lo=cSmoothSdi.map((s,i)=>[c.xs(s),c.ys(smoothV[i]-band[i])]).reverse();
  const b=mk('path',g,{d:smoothD(up)+' L'+smoothD(lo).slice(1)+'Z',fill:'#c8c8c8','fill-opacity':0.75});
  
  
  const sl=mk('path',g,{d:smoothD(cSmoothSdi.map((s,i)=>[c.xs(s),c.ys(smoothV[i])])),fill:'none',stroke:'#4a5566','stroke-width':1.6});
  
  
  names.forEach((n,i)=>{
    const col=hue[(i*5)%hue.length];
    const x=c.xs(sdi[i]),y=c.ys(vals[i]);
    const p=mk('circle',g,{cx:x,cy:y+5,r:1.8,fill:col});
    
    
    const t=txt(g,x,y+1,n,'cl');
    t.setAttribute('fill',col);
    
    
  });
  axes(g,c,name);
}
countryChart('chart-g-incidence-country',gNames,gSdi,gVal,gSmooth,gBand,gTicks,null,0,1403,30,1115,'Incidence Rate per 100,000 population',34,52,77,562,586);
countryChart('chart-h-dalys-country',hNames,hSdi,hVal,hSmooth,hBand,hTicks,null,0,1382,15,1119,'DALYs (DisabilityAdjusted Life Years) Rate per 100,000 population',704,724,748,1233,1256);
countryChart('chart-i-deaths-country',iNames,iSdi,iVal,iSmooth,iBand,iTicks,iTickLabels,0,1382,0.2,1101,'Deaths Rate per 100,000 population',1350,1369,1393,1878,1898);
panelLetter('G',8,1053);panelLetter('H',679,1053);panelLetter('I',1323,1053);
</script>
</body></html>
